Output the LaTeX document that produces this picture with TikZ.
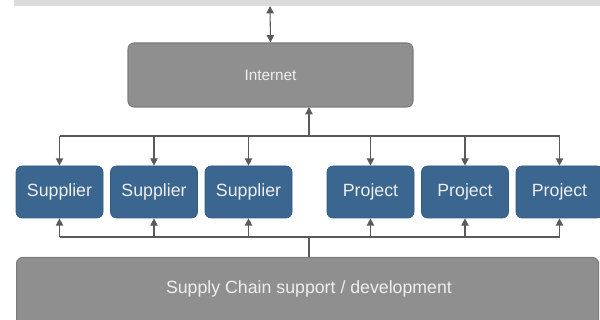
\documentclass[tikz,border=0pt]{standalone}
\usepackage{fontspec}
\setmainfont{Liberation Sans}
\usetikzlibrary{arrows.meta}
\definecolor{boxblue}{HTML}{3A6690}
\definecolor{boxblueline}{HTML}{2F5A82}
\definecolor{boxgray}{HTML}{8F8F8F}
\definecolor{boxgrayline}{HTML}{7C7C7C}
\definecolor{linegray}{HTML}{5A5A5A}
\definecolor{bargray}{HTML}{DBDBDB}
\definecolor{txt}{HTML}{EEEEEE}
\tikzset{
  bluebox/.style={draw=boxblueline, fill=boxblue, rounded corners=4.5, line width=0.5,
    text=txt, font=\fontsize{13.3}{15}\selectfont},
  graybox/.style={draw=boxgrayline, fill=boxgray, rounded corners=4.5, line width=0.8,
    text=txt, font=\fontsize{13.3}{15}\selectfont},
  conn/.style={draw=linegray, line width=0.8},
  arr/.style={conn, -{Triangle[length=5.5pt,width=5.5pt]}},
  darr/.style={conn, {Triangle[length=5.5pt,width=5.5pt]}-{Triangle[length=5.5pt,width=5.5pt]}},
}
\begin{document}
\begin{tikzpicture}[x=0.75pt,y=-0.75pt]
\useasboundingbox (0,0) rectangle (600,320);
% top bar
\fill[bargray] (14,-5) rectangle (605,6);
\coordinate (bar) at (270,6);
% Internet
\node[graybox, minimum width=285*0.75pt, minimum height=64*0.75pt,
  font=\fontsize{11.5}{14}\selectfont] (inet) at (270.5,75) {Internet};
% supplier / project boxes
\foreach \n/\x/\t in {s1/59.5/Supplier, s2/154/Supplier, s3/248.5/Supplier,
                      p1/370.5/Project, p2/465/Project, p3/559.5/Project} {
  \node[bluebox, minimum width=87*0.75pt, minimum height=52*0.75pt] (\n) at (\x,192) {\t};
}
% bottom box
\node[graybox, minimum width=582*0.75pt, minimum height=70*0.75pt, anchor=north west]
  (sc) at (16,257) {};
\node[text=txt, font=\fontsize{13.3}{15}\selectfont] (sct) at (309,289) {Supply Chain support / development};
% connectors
\draw[darr] (bar) -- (inet.north);
\coordinate (tj) at (309,136);
\coordinate (bj) at (309,237);
\draw[arr] (tj) -- (309,107);
\draw[conn] (s1.north |- tj) -- (p3.north |- tj);
\foreach \n in {s1,s2,s3,p1,p2,p3} {
  \draw[arr] (\n.north |- tj) -- (\n.north);
  \draw[arr] (\n.south |- bj) -- (\n.south);
}
\draw[conn] (s1.south |- bj) -- (p3.south |- bj);
\draw[conn] (bj) -- (bj |- sc.north);
\end{tikzpicture}
\end{document}
